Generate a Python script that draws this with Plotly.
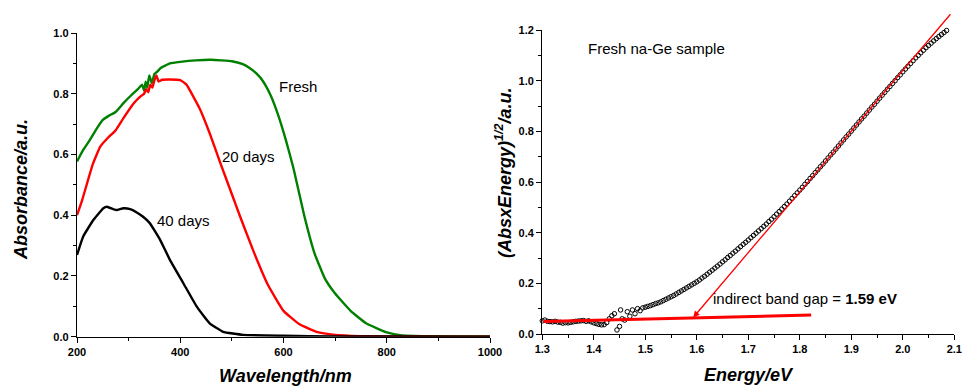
import plotly.graph_objects as go

# ---------------- Left panel: absorbance spectra ----------------
fresh_w = [200, 212, 225, 240, 250, 262, 275, 290, 305, 318, 326, 330, 333, 336, 340, 345, 350, 355, 362,
           380, 400, 430, 460, 500, 520, 535, 548, 560, 575, 590, 605, 620, 640, 660, 680, 700, 730, 760, 800,
           830, 870, 920, 1000]
fresh_a = [0.577, 0.615, 0.648, 0.690, 0.714, 0.728, 0.740, 0.769, 0.795, 0.815, 0.830, 0.810, 0.840, 0.820,
           0.860, 0.835, 0.865, 0.872, 0.885, 0.900, 0.905, 0.910, 0.912, 0.907, 0.898, 0.884, 0.866, 0.842,
           0.795, 0.728, 0.645, 0.550, 0.400, 0.275, 0.192, 0.142, 0.085, 0.044, 0.014, 0.004, 0.002, 0.001,
           0.001]

d20_w = [200, 210, 230, 245, 260, 275, 290, 310, 322, 330, 334, 338, 342, 346, 350, 354, 358, 365, 380, 400,
         412, 438, 457, 477, 502, 515, 541, 570, 600, 630, 664, 700, 750, 800, 900, 1000]
d20_a = [0.400, 0.450, 0.565, 0.626, 0.655, 0.680, 0.720, 0.769, 0.790, 0.800, 0.815, 0.805, 0.830, 0.820,
         0.845, 0.860, 0.840, 0.846, 0.847, 0.845, 0.830, 0.750, 0.670, 0.575, 0.460, 0.400, 0.285, 0.170,
         0.085, 0.042, 0.016, 0.006, 0.002, 0.001, 0.0, 0.0]

d40_w = [200, 212, 232, 251, 258, 270, 277, 290, 303, 315, 328, 341, 350, 361, 380, 406, 432, 457, 483,
         522, 600, 700, 800, 1000]
d40_a = [0.269, 0.330, 0.385, 0.423, 0.428, 0.420, 0.417, 0.423, 0.420, 0.410, 0.395, 0.374, 0.350, 0.319,
         0.253, 0.176, 0.099, 0.044, 0.016, 0.006, 0.003, 0.001, 0.001, 0.0]

# ---------------- Right panel: Tauc plot ----------------
tauc_E = [1.300, 1.305, 1.310, 1.315, 1.320, 1.325, 1.330, 1.335, 1.340, 1.345, 1.350, 1.355, 1.360, 1.365,
          1.370, 1.375, 1.380, 1.385, 1.390, 1.395, 1.400, 1.405, 1.410, 1.415, 1.420, 1.425, 1.430, 1.435,
          1.440, 1.445, 1.450, 1.452, 1.455, 1.460, 1.465, 1.470, 1.475, 1.480, 1.485, 1.490, 1.495, 1.500,
          1.505, 1.510, 1.515, 1.520, 1.525, 1.530, 1.535, 1.540, 1.545, 1.550, 1.555, 1.560, 1.565, 1.570,
          1.575, 1.580, 1.585, 1.590, 1.595, 1.600, 1.605, 1.610, 1.615, 1.620, 1.625, 1.630, 1.635, 1.640,
          1.645, 1.650, 1.655, 1.660, 1.665, 1.670, 1.675, 1.680, 1.685, 1.690, 1.695, 1.700, 1.705, 1.710,
          1.715, 1.720, 1.725, 1.730, 1.735, 1.740, 1.745, 1.750, 1.755, 1.760, 1.765, 1.770, 1.775, 1.780,
          1.785, 1.790, 1.795, 1.800, 1.805, 1.810, 1.815, 1.820, 1.825, 1.830, 1.835, 1.840, 1.845, 1.850,
          1.855, 1.860, 1.865, 1.870, 1.875, 1.880, 1.885, 1.890, 1.895, 1.900, 1.905, 1.910, 1.915, 1.920,
          1.925, 1.930, 1.935, 1.940, 1.945, 1.950, 1.955, 1.960, 1.965, 1.970, 1.975, 1.980, 1.985, 1.990,
          1.995, 2.000, 2.005, 2.010, 2.015, 2.020, 2.025, 2.030, 2.035, 2.040, 2.045, 2.050, 2.055, 2.060,
          2.065, 2.070, 2.075, 2.080, 2.085]
tauc_V = [0.052, 0.055, 0.050, 0.049, 0.048, 0.050, 0.047, 0.046, 0.043, 0.045, 0.044, 0.046, 0.048, 0.050,
          0.051, 0.052, 0.053, 0.050, 0.052, 0.048, 0.044, 0.041, 0.038, 0.036, 0.037, 0.045, 0.060, 0.072,
          0.080, 0.016, 0.030, 0.095, 0.060, 0.055, 0.088, 0.070, 0.095, 0.080, 0.100, 0.092, 0.103, 0.106,
          0.109, 0.112, 0.116, 0.120, 0.123, 0.127, 0.132, 0.137, 0.142, 0.147, 0.152, 0.158, 0.164, 0.170,
          0.176, 0.182, 0.188, 0.194, 0.200, 0.206, 0.213, 0.221, 0.228, 0.236, 0.244, 0.252, 0.260, 0.268,
          0.276, 0.285, 0.293, 0.302, 0.310, 0.319, 0.327, 0.336, 0.345, 0.354, 0.362, 0.371, 0.380, 0.389,
          0.398, 0.407, 0.416, 0.425, 0.434, 0.444, 0.453, 0.463, 0.473, 0.483, 0.493, 0.503, 0.513, 0.524,
          0.535, 0.546, 0.557, 0.568, 0.579, 0.591, 0.602, 0.614, 0.625, 0.637, 0.648, 0.660, 0.671, 0.683,
          0.695, 0.707, 0.718, 0.730, 0.742, 0.754, 0.766, 0.778, 0.789, 0.801, 0.813, 0.825, 0.837, 0.849,
          0.860, 0.872, 0.884, 0.896, 0.907, 0.919, 0.931, 0.943, 0.954, 0.966, 0.977, 0.989, 1.000, 1.012,
          1.023, 1.035, 1.046, 1.057, 1.068, 1.079, 1.090, 1.100, 1.110, 1.120, 1.130, 1.139, 1.148, 1.157,
          1.166, 1.174, 1.182, 1.190, 1.198]

base_E = [1.302, 1.822]
base_V = [0.049, 0.075]
fit_E = [1.593, 2.095]   # arrow head at the lower end
fit_V = [0.065, 1.268]

FONT = "Liberation Sans, Arial, sans-serif"
W, H = 962, 387

fig = go.Figure()
for xs, ys, col in [(fresh_w, fresh_a, "#008000"), (d20_w, d20_a, "#ff0000"), (d40_w, d40_a, "#000000")]:
    fig.add_trace(go.Scatter(x=xs, y=ys, mode="lines",
                             line=dict(color=col, width=2.4, shape="spline", smoothing=0.35),
                             xaxis="x", yaxis="y", cliponaxis=False))

fig.add_trace(go.Scatter(x=tauc_E, y=tauc_V, mode="markers",
                         marker=dict(symbol="circle-open", size=4.5, color="#000000", line=dict(width=1)),
                         xaxis="x2", yaxis="y2", cliponaxis=False))
fig.add_trace(go.Scatter(x=base_E, y=base_V, mode="lines", line=dict(color="#ff0000", width=3),
                         xaxis="x2", yaxis="y2", cliponaxis=False))


def px(x):
    return x / W


def py(y):
    return 1 - y / H


tickfont = dict(family=FONT, size=11, color="#000000")
common = dict(showgrid=False, zeroline=False, showline=True, linecolor="#000000", linewidth=1.4,
              ticks="outside", ticklen=5, tickwidth=1.2, tickcolor="#000000", tickfont=tickfont,
              automargin=False)

fig.update_layout(
    width=W, height=H, margin=dict(l=0, r=0, t=0, b=0, autoexpand=False),
    paper_bgcolor="white", plot_bgcolor="white", showlegend=False,
    xaxis=dict(domain=[px(77), px(490)], range=[200, 1000], tickvals=[200, 400, 600, 800, 1000],
               ticktext=["<b>200</b>", "<b>400</b>", "<b>600</b>", "<b>800</b>", "<b>1000</b>"],
               minor=dict(ticks="outside", ticklen=3, dtick=100, tick0=200, tickcolor="#000000"),
               anchor="y", **common),
    yaxis=dict(domain=[py(336.7), py(33)], range=[0, 1.0], tickvals=[0, 0.2, 0.4, 0.6, 0.8, 1.0],
               ticktext=["<b>0.0</b>", "<b>0.2</b>", "<b>0.4</b>", "<b>0.6</b>", "<b>0.8</b>", "<b>1.0</b>"],
               minor=dict(ticks="outside", ticklen=3, dtick=0.1, tick0=0, tickcolor="#000000"),
               anchor="x", **common),
    xaxis2=dict(domain=[px(542.3), px(954.3)], range=[1.3, 2.1],
                tickvals=[1.3, 1.4, 1.5, 1.6, 1.7, 1.8, 1.9, 2.0, 2.1],
                ticktext=["<b>%.1f</b>" % v for v in [1.3, 1.4, 1.5, 1.6, 1.7, 1.8, 1.9, 2.0, 2.1]],
                minor=dict(ticks="outside", ticklen=3, dtick=0.05, tick0=1.3, tickcolor="#000000"),
                anchor="y2", **common),
    yaxis2=dict(domain=[py(334), py(30)], range=[0, 1.2], tickvals=[0, 0.2, 0.4, 0.6, 0.8, 1.0, 1.2],
                ticktext=["<b>%.1f</b>" % v for v in [0, 0.2, 0.4, 0.6, 0.8, 1.0, 1.2]],
                minor=dict(ticks="outside", ticklen=3, dtick=0.1, tick0=0, tickcolor="#000000"),
                anchor="x2", **common),
)

title_font = dict(family=FONT, size=18, color="#000000")
label_font = dict(family=FONT, size=15, color="#000000")

annotations = [
    dict(text="<b><i>Wavelength/nm</i></b>", x=px(285), y=py(376), xref="paper", yref="paper",
         showarrow=False, font=title_font, xanchor="center", yanchor="middle"),
    dict(text="<b><i>Absorbance/a.u.</i></b>", x=px(21), y=py(190), xref="paper", yref="paper",
         showarrow=False, font=title_font, textangle=-90, xanchor="center", yanchor="middle"),
    dict(text="<b><i>Energy/eV</i></b>", x=px(749), y=py(375), xref="paper", yref="paper",
         showarrow=False, font=title_font, xanchor="center", yanchor="middle"),
    dict(text="<b><i>(AbsxEnergy)<sup>1/2</sup>/a.u.</i></b>", x=px(503), y=py(172), xref="paper", yref="paper",
         showarrow=False, font=title_font, textangle=-90, xanchor="center", yanchor="middle"),
    dict(text="Fresh", x=629, y=0.823, xref="x", yref="y", showarrow=False, font=label_font),
    dict(text="20 days", x=533, y=0.592, xref="x", yref="y", showarrow=False, font=label_font),
    dict(text="40 days", x=406, y=0.384, xref="x", yref="y", showarrow=False, font=label_font),
    dict(text="Fresh na-Ge sample", x=1.521, y=1.128, xref="x2", yref="y2", showarrow=False, font=label_font),
    dict(text="indirect band gap = <b>1.59 eV</b>", x=1.81, y=0.142, xref="x2", yref="y2",
         showarrow=False, font=label_font),
    dict(x=fit_E[0], y=fit_V[0], ax=fit_E[1], ay=fit_V[1], xref="x2", yref="y2", axref="x2", ayref="y2",
         showarrow=True, arrowhead=2, arrowsize=1, arrowwidth=1.3, arrowcolor="#ff0000", text=""),
]
fig.update_layout(annotations=annotations)

fig.write_html("out.html")
